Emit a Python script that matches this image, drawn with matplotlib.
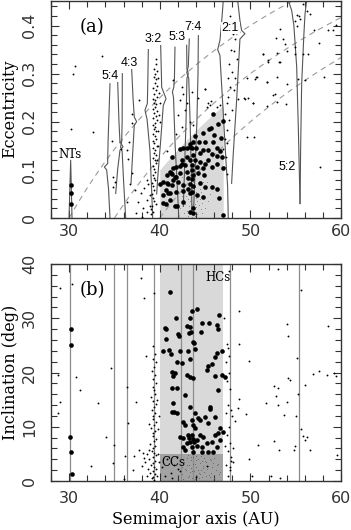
import numpy as np
import matplotlib
matplotlib.use("Agg")
import matplotlib.pyplot as plt
from matplotlib.ticker import MultipleLocator, FixedLocator

# ---------------- data ----------------
# resonance locations (AU) and labels
res_names = ["NTs", "5:4", "4:3", "3:2", "5:3", "7:4", "2:1", "5:2"]
res_a = [30.1, 34.9, 36.4, 39.4, 42.3, 43.7, 47.7, 55.4]
res_label_a = [30.1, 34.5, 36.6, 39.33, 41.9, 43.7, 47.8, 54.04]
res_label_e = [0.133, 0.296, 0.322, 0.372, 0.376, 0.396, 0.395, 0.106]

# resonance boundary curves (a, e)
curve_nt = [(29.99, 0.0), (30.17, 0.12), (30.32, 0.0)]
curve_54L = [(34.51, 0.279), (34.30, 0.16), (34.25, 0.113), (33.89, 0.106), (34.14, 0.100), (34.35, 0.06), (34.51, 0.0)]
curve_54R = [(35.36, 0.282), (35.50, 0.20), (35.61, 0.158), (35.95, 0.148), (35.61, 0.141), (35.35, 0.10), (35.14, 0.051)]
curve_43L = [(35.87, 0.300), (35.85, 0.20), (35.80, 0.158), (35.68, 0.148), (35.85, 0.138), (36.0, 0.08), (36.24, 0.0)]
curve_43R = [(36.90, 0.310), (37.05, 0.25), (37.19, 0.21), (37.45, 0.20), (37.19, 0.193), (37.0, 0.13), (36.83, 0.072)]
curve_32L = [(38.74, 0.350), (38.68, 0.28), (38.63, 0.238), (38.37, 0.224), (38.60, 0.205), (38.92, 0.14), (39.10, 0.06), (39.22, 0.0)]
curve_32R = [(40.10, 0.359), (40.18, 0.30), (40.21, 0.272), (40.69, 0.248), (40.39, 0.234), (40.10, 0.16), (39.80, 0.09), (39.66, 0.05)]
curve_53L = [(41.68, 0.355), (41.62, 0.29), (41.55, 0.272), (41.40, 0.262), (41.52, 0.250), (41.70, 0.15), (41.95, 0.06), (42.10, 0.0)]
curve_53R = [(42.97, 0.359), (43.00, 0.31), (43.15, 0.300), (43.00, 0.290), (42.90, 0.20), (42.70, 0.08), (42.60, 0.024)]
curve_74L = [(43.26, 0.372), (43.15, 0.315), (42.98, 0.302), (43.20, 0.290), (43.35, 0.20), (43.50, 0.08), (43.55, 0.01)]
curve_74R = [(44.26, 0.379), (44.22, 0.30), (44.10, 0.20), (43.90, 0.10), (43.75, 0.024)]
curve_21L = [(47.01, 0.452), (46.80, 0.40), (46.64, 0.369), (46.39, 0.350), (46.64, 0.338), (47.00, 0.22), (47.30, 0.12), (47.49, 0.065), (47.56, 0.0)]
curve_21R = [(48.60, 0.452), (48.85, 0.41), (49.03, 0.39), (49.40, 0.383), (48.85, 0.372), (48.50, 0.25), (48.10, 0.13), (47.93, 0.072)]
curve_52L = [(54.19, 0.452), (54.56, 0.431), (54.80, 0.40), (55.11, 0.314), (55.30, 0.18), (55.48, 0.03)]
curve_52R = [(56.21, 0.452), (56.03, 0.424), (55.90, 0.38), (55.66, 0.279), (55.55, 0.15), (55.48, 0.03)]

# perihelion distance lines (AU) and classical-region boundary
q_dashed = [30, 35, 40]
q_classical = 36
classical_a = [40, 47]
cold_i_max = 5
hot_i_max = 40

# panel (a) large dots: classical objects + NTs
big_a_a = [45.91, 46.94, 46.46, 45.65, 45.47, 44.80, 46.00, 46.80, 43.70, 44.33, 45.00, 43.33, 45.90,
           42.60, 43.00, 43.52, 44.00, 44.80, 45.36, 46.30, 46.64, 44.44, 45.72, 46.28, 46.83, 43.70,
           43.04, 41.31, 42.41, 43.33, 43.90, 44.44, 45.00, 45.36, 46.28, 42.23, 42.78, 43.52, 44.07,
           44.80, 45.72, 47.00, 41.50, 41.13, 42.23, 42.97, 43.52, 44.26, 44.85, 40.76, 41.30, 41.79,
           43.15, 43.52, 43.70, 40.39, 40.94, 41.42, 42.05, 42.60, 43.33, 43.70, 43.15, 43.52, 44.44,
           44.99, 45.72, 40.02, 40.69, 41.13, 41.79, 42.60, 43.33, 44.07, 44.80, 46.28, 40.32, 41.13,
           40.69, 41.86, 42.60, 43.70, 46.57, 43.33, 43.70, 46.94, 43.89, 43.34, 42.23, 41.79, 42.42,
           41.24, 41.68, 40.76, 41.31, 40.95, 40.39, 41.68,
           30.20, 30.25, 30.25]
big_a_e = [0.216, 0.201, 0.196, 0.186, 0.184, 0.177, 0.172, 0.167, 0.158, 0.157, 0.158, 0.153, 0.158,
           0.145, 0.145, 0.146, 0.145, 0.142, 0.141, 0.146, 0.140, 0.135, 0.133, 0.129, 0.127, 0.131,
           0.127, 0.127, 0.121, 0.120, 0.120, 0.117, 0.113, 0.120, 0.113, 0.108, 0.110, 0.110, 0.105,
           0.103, 0.106, 0.103, 0.103, 0.096, 0.093, 0.096, 0.100, 0.094, 0.089, 0.089, 0.091, 0.086,
           0.084, 0.082, 0.089, 0.075, 0.070, 0.079, 0.075, 0.068, 0.070, 0.066, 0.061, 0.055, 0.072,
           0.065, 0.065, 0.070, 0.059, 0.051, 0.055, 0.057, 0.051, 0.048, 0.044, 0.061, 0.048, 0.038,
           0.030, 0.024, 0.034, 0.020, 0.041, 0.013, 0.010, 0.006, 0.170, 0.148, 0.144, 0.106, 0.113,
           0.093, 0.086, 0.072, 0.068, 0.051, 0.032, 0.024,
           0.068, 0.052, 0.030]

# panel (a) small dots: resonant / scattered objects
small_a_a = [30.65, 30.39, 30.17, 32.60, 33.41, 33.59, 34.69, 35.72, 36.90, 36.90, 37.75, 36.60, 36.35,
             36.53, 36.90, 36.72, 34.80, 35.06, 34.88, 37.27, 36.42, 37.64, 38.19, 38.56, 38.92, 38.56,
             37.38, 38.00, 38.92, 39.59, 37.90, 38.30, 38.70, 39.00, 38.60,
             39.55, 39.60, 39.40, 39.70, 39.50, 39.35, 39.62, 39.45, 39.75, 39.30, 39.55, 39.40, 39.65,
             39.20, 39.50, 39.35, 39.60, 39.45, 39.25, 39.70, 39.40, 39.55, 39.30, 39.65, 39.45, 39.20,
             39.50, 39.35, 39.60, 39.25, 39.45, 39.55, 39.30, 39.40, 39.65, 39.20, 39.50, 39.35, 39.55,
             39.25, 39.45, 39.60, 39.30, 39.40, 39.50, 39.20, 39.35, 39.45, 39.15, 39.30, 39.40, 39.10,
             39.25, 39.35, 39.15, 39.05, 39.30, 39.85, 39.95, 40.05, 39.90, 40.00, 39.80, 39.85, 39.75,
             41.49, 42.41, 42.60, 42.23, 42.97, 42.78, 42.05, 43.33, 43.70, 42.41, 44.99, 45.36, 45.54,
             46.28, 46.64, 43.60, 44.20, 41.80, 40.80,
             48.12, 48.30, 48.23, 48.48, 47.64, 47.93, 47.49, 48.30, 47.75, 48.23, 47.56, 47.38, 47.93,
             47.20, 47.64, 47.38, 47.20, 47.38, 47.01, 47.27, 47.12, 47.38, 47.70, 47.85, 47.55,
             48.67, 49.33, 49.77, 50.32, 49.59, 51.43, 51.98, 50.69, 51.80, 49.59, 52.71, 53.15, 44.99,
             45.65, 45.17, 49.41, 50.55, 50.37,
             55.84, 55.11, 55.40, 55.48, 54.92, 55.18, 56.58, 56.21, 59.45, 58.60, 59.08, 57.02, 53.27,
             52.83, 53.56, 53.82, 54.00, 52.90, 51.98, 51.36, 54.92, 54.92, 55.84, 56.40, 53.27, 57.61,
             50.59, 51.87, 52.98, 55.29, 56.03, 58.12, 54.08, 52.53, 52.90, 53.90, 50.25, 51.80, 57.68]
small_a_e = [0.315, 0.300, 0.184, 0.179, 0.386, 0.336, 0.160, 0.144, 0.217, 0.198, 0.246, 0.158, 0.141,
             0.122, 0.093, 0.070, 0.086, 0.075, 0.065, 0.058, 0.034, 0.034, 0.020, 0.079, 0.048, 0.037,
             0.011, 0.003, 0.024, 0.030, 0.052, 0.062, 0.070, 0.009, 0.012,
             0.330, 0.320, 0.310, 0.305, 0.300, 0.292, 0.288, 0.280, 0.275, 0.270, 0.265, 0.258, 0.252,
             0.248, 0.245, 0.240, 0.236, 0.230, 0.226, 0.222, 0.218, 0.212, 0.208, 0.203, 0.198, 0.194,
             0.190, 0.185, 0.180, 0.175, 0.170, 0.165, 0.160, 0.155, 0.150, 0.146, 0.141, 0.136, 0.130,
             0.125, 0.120, 0.114, 0.108, 0.102, 0.096, 0.090, 0.084, 0.078, 0.072, 0.066, 0.058, 0.050,
             0.042, 0.035, 0.025, 0.018, 0.012, 0.290, 0.260, 0.240, 0.215, 0.200, 0.180, 0.150, 0.120,
             0.286, 0.272, 0.258, 0.245, 0.238, 0.224, 0.214, 0.200, 0.193, 0.190, 0.269, 0.238, 0.234,
             0.231, 0.234, 0.262, 0.250, 0.175, 0.140,
             0.383, 0.372, 0.348, 0.331, 0.321, 0.303, 0.290, 0.290, 0.272, 0.265, 0.251, 0.238, 0.224,
             0.217, 0.203, 0.182, 0.165, 0.155, 0.144, 0.127, 0.106, 0.092, 0.420, 0.350, 0.400,
             0.248, 0.250, 0.250, 0.238, 0.169, 0.341, 0.324, 0.293, 0.283, 0.290, 0.258, 0.325, 0.269,
             0.243, 0.231, 0.248, 0.288, 0.169,
             0.444, 0.421, 0.419, 0.414, 0.409, 0.400, 0.423, 0.431, 0.402, 0.391, 0.390, 0.391, 0.393,
             0.374, 0.372, 0.362, 0.348, 0.343, 0.328, 0.341, 0.356, 0.341, 0.341, 0.340, 0.324, 0.363,
             0.294, 0.283, 0.292, 0.289, 0.286, 0.293, 0.278, 0.255, 0.241, 0.236, 0.239, 0.232, 0.106]

# panel (a) tiny grey dots (cold classical cloud)
tiny_a_a = [42.2, 42.5, 42.8, 42.9, 43.0, 43.1, 43.2, 43.25, 43.35, 43.4, 43.45, 43.5, 43.55, 43.6,
            43.65, 43.7, 43.75, 43.8, 43.85, 43.9, 43.95, 44.0, 44.05, 44.1, 44.15, 44.2, 44.3, 44.35,
            44.4, 44.5, 44.6, 44.7, 44.8, 44.9, 45.0, 45.1, 45.3, 45.5, 42.6, 42.4, 43.0, 43.3, 43.8,
            44.2, 42.7, 43.15, 43.6, 44.45, 43.4, 43.7, 42.95, 44.65, 45.2, 42.3, 43.9]
tiny_a_e = [0.020, 0.045, 0.030, 0.060, 0.015, 0.040, 0.025, 0.055, 0.035, 0.070, 0.010, 0.045, 0.028,
            0.060, 0.020, 0.038, 0.050, 0.012, 0.030, 0.065, 0.042, 0.022, 0.055, 0.035, 0.008, 0.048,
            0.028, 0.070, 0.040, 0.018, 0.055, 0.032, 0.075, 0.045, 0.020, 0.060, 0.035, 0.050, 0.075,
            0.085, 0.085, 0.090, 0.080, 0.090, 0.010, 0.005, 0.003, 0.060, 0.050, 0.075, 0.045, 0.010,
            0.075, 0.060, 0.005]

# panel (b) large dots
big_b_a = [41.13, 43.52, 44.15, 46.54, 41.79, 43.34, 44.62, 45.47, 43.00, 43.34, 46.35, 46.39, 40.58,
           40.69, 42.05, 42.16, 43.26, 43.41, 44.51, 40.69, 43.63, 43.78, 40.32, 41.06, 41.24, 42.23,
           43.15, 43.89, 46.35, 46.83, 46.10, 41.87, 42.42, 43.34, 45.36, 45.73, 45.18, 41.31, 41.68,
           41.50, 43.34, 43.70, 46.83, 47.20, 42.97, 46.10, 46.46, 41.31, 41.87, 42.78, 41.50, 41.57,
           41.31, 41.87, 43.34, 43.89, 44.26, 44.44, 45.54, 45.54, 44.99, 45.36, 46.10, 46.65, 46.94,
           46.10, 46.39, 43.52, 43.70, 43.89, 42.60, 42.78, 42.23, 42.60, 43.15, 43.52, 43.26, 43.63,
           43.34, 43.78, 44.07, 44.44, 44.80, 42.97, 42.60, 43.52, 44.07, 44.62, 45.18, 45.73, 46.65,
           46.28, 43.70, 44.62, 45.36, 45.91, 42.78,
           30.20, 30.25, 30.15, 30.25, 30.30]
big_b_i = [34.78, 31.34, 31.65, 30.60, 29.99, 29.99, 29.19, 29.07, 28.57, 28.45, 28.76, 27.96, 28.14,
           27.96, 27.10, 26.70, 27.22, 27.50, 27.50, 26.10, 25.69, 25.38, 24.03, 24.15, 23.41, 24.03,
           24.03, 24.27, 23.66, 24.03, 22.92, 22.00, 21.69, 22.49, 21.20, 21.57, 20.46, 20.16, 19.97,
           19.36, 19.24, 18.93, 19.54, 19.24, 19.54, 19.35, 16.77, 17.08, 17.08, 15.85, 14.30, 12.78,
           12.78, 12.47, 13.70, 12.47, 11.55, 11.24, 13.58, 13.21, 11.86, 10.63, 11.86, 9.71, 9.09,
           8.48, 8.79, 11.24, 10.32, 9.71, 10.94, 10.32, 8.17, 7.86, 8.48, 8.48, 7.86, 7.68,
           7.25, 7.25, 7.56, 8.48, 8.17, 6.94, 6.33, 6.20, 6.45, 6.20, 6.94, 7.25, 7.56,
           6.20, 5.40, 5.40, 5.40, 5.40, 5.71,
           28.10, 25.00, 8.05, 5.28, 1.29]

# panel (b) small dots
small_b_a = [39.3, 39.5, 39.2, 39.6, 39.4, 39.1, 39.5, 39.3, 39.6, 39.2, 39.4, 39.5, 39.0, 39.3, 39.6,
             39.4, 39.1, 39.5, 39.3, 39.2, 39.6, 39.4, 39.0, 39.5, 39.3, 39.2, 39.6, 39.4, 38.9, 39.5,
             39.3, 39.1, 39.4, 39.6, 39.2, 38.8, 39.5, 39.3, 39.0, 39.4, 39.6, 39.2, 38.9, 39.5, 39.3,
             39.1, 39.4, 38.6, 38.4, 38.7, 38.2, 38.0, 39.8, 39.7, 39.8, 39.7, 38.6, 39.9, 39.9, 38.8,
             47.5, 47.3, 47.6, 47.4, 47.8, 47.5, 47.3, 47.9, 48.0, 47.6, 47.4, 47.8, 47.5, 47.9, 47.3,
             47.7, 47.5, 48.1, 47.2, 47.6,
             28.99, 30.28, 28.81, 28.99, 28.81, 30.76, 31.2, 32.43, 33.24, 34.6, 34.1, 34.96, 34.8, 36.4,
             36.5, 36.2, 36.1, 37.4, 37.2, 37.9, 38.3, 38.5, 39.4, 38.8, 38.3, 37.7, 37.0,
             47.6, 47.1, 47.4, 48.6, 48.7, 48.3, 48.1, 47.9, 47.8, 48.7, 48.7, 49.5, 49.9, 50.8, 49.9,
             50.2, 51.7, 52.6, 53.0, 52.6, 52.8, 53.0, 54.0, 54.0, 54.1, 54.2, 54.4, 53.7, 53.2, 52.3,
             53.3, 55.1, 55.3, 55.0, 54.9, 54.8, 55.6, 55.8, 56.0, 56.2, 55.6, 56.0, 56.9, 57.6, 58.4,
             59.2, 59.4, 58.6, 53.0, 59.6, 56.6,
             40.3, 40.8, 41.2, 41.6, 42.0, 41.9, 40.6, 41.4, 42.2, 44.0, 45.2]
small_b_i = [24.8, 23.5, 22.5, 21.9, 21.0, 20.2, 19.6, 18.8, 18.1, 17.4, 16.8, 16.0, 15.4, 14.8, 14.2,
             13.6, 13.0, 12.5, 12.0, 11.4, 10.9, 10.3, 9.8, 9.3, 8.8, 8.3, 7.8, 7.3, 6.8, 6.4,
             6.0, 5.6, 5.2, 4.8, 4.4, 4.0, 3.7, 3.3, 2.9, 2.6, 2.2, 1.9, 1.5, 1.2, 0.8,
             0.5, 0.2, 4.9, 3.5, 2.2, 5.1, 2.8, 9.5, 15.0, 5.0, 1.0, 1.0, 12.0, 3.5, 10.5,
             24.5, 22.0, 20.0, 18.5, 17.0, 14.0, 12.5, 13.0, 12.0, 10.0, 8.5, 7.0, 5.5, 4.5, 3.0,
             2.0, 1.0, 3.5, 6.5, 23.0,
             35.5, 36.4, 19.5, 14.6, 12.5, 19.2, 16.8, 2.7, 14.3, 20.8, 8.2, 6.7, 3.3, 17.4,
             10.7, 4.6, 0.4, 14.6, 4.6, 37.4, 33.7, 23.0, 34.6, 5.8, 4.3, 5.8, 2.1,
             38.7, 30.1, 25.2, 13.5, 15.1, 11.0, 6.1, 3.7, 2.5, 31.4, 25.2, 12.3, 22.1, 6.7, 4.0,
             0.9, 14.4, 7.3, 17.2, 17.5, 15.7, 14.1, 14.5, 29.0, 26.7, 19.0, 18.7, 12.2, 5.8, 0.9,
             0.5, 22.6, 16.0, 12.0, 6.4, 5.8, 9.6, 8.3, 7.5, 8.1, 35.2, 17.7, 19.8, 20.2, 19.5,
             20.0, 19.3, 28.6, 39.0, 4.8, 5.8,
             2.5, 4.0, 1.5, 3.0, 2.2, 4.5, 1.0, 0.6, 1.8, 0.8, 2.7]

# panel (b) tiny grey dots (cold classical cloud)
tiny_b_a = [42.5, 42.7, 42.9, 43.0, 43.1, 43.2, 43.3, 43.4, 43.5, 43.6, 43.7, 43.8, 43.9, 44.0, 44.1,
            44.2, 44.3, 44.4, 44.5, 44.6, 44.7, 44.8, 44.9, 45.0, 45.2, 45.4, 45.6, 45.8, 46.0, 46.3,
            42.6, 42.8, 43.05, 43.25, 43.45, 43.65, 43.85, 44.05, 44.25, 44.45, 44.65, 44.85, 45.1,
            45.3, 45.5, 45.7, 45.9, 46.2, 46.5, 42.4, 43.15, 43.55, 43.95, 44.35, 44.75, 45.15, 45.55,
            45.95, 46.4, 46.7]
tiny_b_i = [1.2, 3.5, 2.1, 4.2, 0.8, 2.9, 1.6, 3.8, 2.4, 0.5, 4.5, 1.9, 3.1, 2.6, 0.9,
            4.0, 1.4, 3.3, 2.0, 4.7, 0.7, 2.8, 1.7, 3.6, 2.3, 1.1, 3.9, 2.5, 0.6, 3.0,
            0.4, 2.2, 3.0, 1.0, 4.4, 3.2, 0.3, 4.6, 2.1, 1.3, 3.7, 4.3, 0.9, 2.7, 4.1,
            1.5, 3.4, 2.0, 1.2, 2.6, 4.8, 1.8, 3.9, 0.6, 2.4, 3.5, 0.8, 4.2, 3.1, 1.6]

# ---------------- styling ----------------
SERIF = ["DejaVu Serif"]
SANS = ["DejaVu Sans"]
LINE = "#555555"
SPINE = "#333333"

fig = plt.figure(figsize=(3.51, 5.30), dpi=100)
ax1 = fig.add_axes([51 / 351, 1 - 218 / 530, 290 / 351, 217.5 / 530])
ax2 = fig.add_axes([51 / 351, 1 - 481 / 530, 290 / 351, 217 / 530])


def style_axis(ax, ymajor, yminor, ylabels, xpad, ypad):
    ax.set_xlim(28, 60)
    ax.xaxis.set_major_locator(FixedLocator([30, 40, 50, 60]))
    ax.xaxis.set_minor_locator(MultipleLocator(2))
    ax.yaxis.set_major_locator(FixedLocator(ymajor))
    ax.yaxis.set_minor_locator(MultipleLocator(yminor))
    ax.set_yticklabels(ylabels)
    ax.tick_params(which="both", direction="in", top=True, right=True, color=SPINE, width=0.8)
    ax.tick_params(which="major", length=6)
    ax.tick_params(which="minor", length=4)
    ax.tick_params(axis="x", pad=xpad, labelsize=11.5, labelcolor="#333333")
    ax.tick_params(axis="y", pad=ypad, labelsize=11.5, labelcolor="#333333", labelrotation=90)
    for lab in ax.get_yticklabels():
        lab.set_va("center")
    for lab in ax.get_xticklabels() + ax.get_yticklabels():
        lab.set_family(SANS)
    for s in ax.spines.values():
        s.set_color(SPINE)
        s.set_linewidth(1.0)


# ---------------- panel (a) ----------------
ax1.set_ylim(0, 0.452)
aa = np.linspace(classical_a[0], classical_a[1], 50)
ax1.fill_between(aa, 0, 1 - q_classical / aa, color="#d9d9d9", lw=0, zorder=0)

for q in q_dashed:
    ag = np.linspace(q, 60, 200)
    ax1.plot(ag, 1 - q / ag, color="#9a9a9a", lw=0.8, dashes=(5, 4), zorder=1)

curves = [curve_nt, curve_54L, curve_54R, curve_43L, curve_43R, curve_32L, curve_32R,
          curve_53L, curve_53R, curve_74L, curve_74R, curve_21L, curve_21R, curve_52L, curve_52R]
for c in curves:
    xs, ys = zip(*c)
    ax1.plot(xs, ys, color=LINE, lw=0.8, zorder=2)

ax1.scatter(tiny_a_a, tiny_a_e, s=0.5, color="#888888", lw=0, zorder=3)
ax1.scatter(small_a_a, small_a_e, s=1.8, color="black", lw=0, zorder=4)
ax1.scatter(big_a_a, big_a_e, s=11, color="black", lw=0, zorder=5)

for name, xa, ye in zip(res_names, res_label_a, res_label_e):
    if name == "NTs":
        ax1.text(xa, ye, name, ha="center", va="center", fontsize=8.5, family=SERIF, zorder=6)
    else:
        ax1.text(xa, ye, name, ha="center", va="center", fontsize=9, family=["Liberation Sans"],
                 zorder=6, bbox=dict(facecolor="white", edgecolor="none", pad=0.3))

ax1.text(0.10, 0.88, "(a)", transform=ax1.transAxes, fontsize=13, family=SERIF, ha="left", va="center")
style_axis(ax1, [0, 0.1, 0.2, 0.3, 0.4], 0.02, ["0", "0.1", "0.2", "0.3", "0.4"], 4, 10)
ax1.set_ylabel("Eccentricity", fontsize=11.5, family=SERIF, va="center")
ax1.yaxis.set_label_coords(-41 / 290, 0.5)

# ---------------- panel (b) ----------------
ax2.set_ylim(0, 40)
ax2.fill_between(classical_a, 0, hot_i_max, color="#d9d9d9", lw=0, zorder=0)
ax2.fill_between(classical_a, 0, cold_i_max, color="#a3a3a3", lw=0, zorder=0.5)
for xr in res_a:
    ax2.axvline(xr, color="#8c8c8c", lw=0.9, zorder=1)

ax2.scatter(tiny_b_a, tiny_b_i, s=0.6, color="#666666", lw=0, zorder=3)
ax2.scatter(small_b_a, small_b_i, s=1.8, color="black", lw=0, zorder=4)
ax2.scatter(big_b_a, big_b_i, s=11, color="black", lw=0, zorder=5)

ax2.text(46.4, 37.6, "HCs", ha="center", va="center", fontsize=8.5, family=SERIF, zorder=6)
ax2.text(40.2, 3.5, "CCs", ha="left", va="center", fontsize=8.5, family=SERIF, zorder=6)
ax2.text(0.10, 0.88, "(b)", transform=ax2.transAxes, fontsize=13, family=SERIF, ha="left", va="center")
style_axis(ax2, [0, 10, 20, 30, 40], 2, ["0", "10", "20", "30", "40"], 7, 10)
ax2.set_ylabel("Inclination (deg)", fontsize=11.5, family=SERIF, va="center")
ax2.yaxis.set_label_coords(-41 / 290, 0.5)
ax2.set_xlabel("Semimajor axis (AU)", fontsize=11.5, family=SERIF, va="center")
ax2.xaxis.set_label_coords(0.5, -38 / 217)

fig.savefig("out.png", dpi=100)
